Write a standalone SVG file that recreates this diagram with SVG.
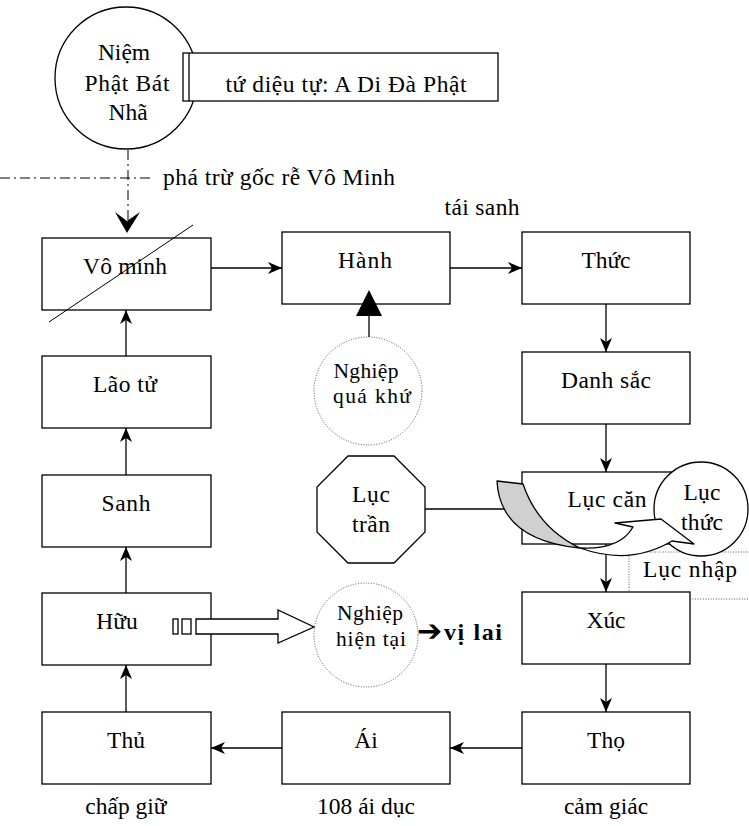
<svg xmlns="http://www.w3.org/2000/svg" width="749" height="826" viewBox="0 0 749 826">
<defs>
<style>
.box{fill:#fff;stroke:#000;stroke-width:1.3}
.t{font-family:"Liberation Serif","Times New Roman",serif;font-size:23.5px;fill:#000;text-anchor:middle}
.s{font-size:21.5px}
.ln{stroke:#000;stroke-width:1.3;fill:none}
.dot{fill:#fff;stroke:#555;stroke-width:1;stroke-dasharray:1 1.6}
.dotl{fill:none;stroke:#555;stroke-width:1;stroke-dasharray:1 1.6}
.dd{stroke:#000;stroke-width:1;fill:none;stroke-dasharray:10 4 2 4}
</style>
<marker id="arr" markerUnits="userSpaceOnUse" markerWidth="16" markerHeight="14" viewBox="0 0 16 14" refX="15" refY="7" orient="auto">
<path d="M1,1 L15,7 L1,13 L5,7 Z" fill="#000"/>
</marker>
</defs>
<rect width="749" height="826" fill="#fff"/>

<g id="luc-nhap">
<rect x="629" y="552" width="140" height="47" class="dotl"/>
<text class="t" x="690" y="577" textLength="94" lengthAdjust="spacing">Lục nhập</text>
</g>

<g id="niem-phat">
<circle cx="126" cy="78" r="71" class="box"/>
<text class="t" x="124" y="60">Niệm</text>
<text class="t" x="127" y="91" textLength="85" lengthAdjust="spacing">Phật Bát</text>
<text class="t" x="128" y="120">Nhã</text>
</g>

<g id="tu-dieu-tu">
<rect x="183" y="53" width="315" height="48" class="box"/>
<line x1="189" y1="53" x2="189" y2="101" class="ln"/>
<text class="t" x="346" y="92" textLength="241" lengthAdjust="spacing">tứ diệu tự: A Di Đà Phật</text>
</g>

<g id="pha-tru">
<line x1="0" y1="178" x2="152" y2="178" class="dd"/>
<line x1="128" y1="150" x2="128" y2="222" class="dd"/>
<path d="M127,233 L115,212 L127,221 L140,212 Z" fill="#000"/>
<text class="t" x="163" y="185" style="text-anchor:start" textLength="232" lengthAdjust="spacing">phá trừ gốc rễ Vô Minh</text>
</g>

<g id="vo-minh">
<rect x="42" y="238" width="169" height="72" class="box"/>
<text class="t" x="125" y="274" textLength="84" lengthAdjust="spacing">Vô minh</text>
</g>

<g id="hanh">
<rect x="282" y="232" width="168" height="72" class="box"/>
<text class="t" x="365" y="268" textLength="54" lengthAdjust="spacing">Hành</text>
</g>

<text class="t" x="482" y="215" textLength="75" lengthAdjust="spacing">tái sanh</text>

<g id="thuc">
<rect x="522" y="232" width="168" height="72" class="box"/>
<text class="t" x="606" y="268" textLength="49" lengthAdjust="spacing">Thức</text>
</g>

<g id="danh-sac">
<rect x="522" y="352" width="168" height="72" class="box"/>
<text class="t" x="606" y="388" textLength="90" lengthAdjust="spacing">Danh sắc</text>
</g>

<g id="lao-tu">
<rect x="42" y="356" width="169" height="72" class="box"/>
<text class="t" x="125" y="392" textLength="64" lengthAdjust="spacing">Lão tử</text>
</g>

<g id="nghiep-qua-khu">
<circle cx="368" cy="391" r="54" class="dot"/>
<text class="t s" x="366" y="378" textLength="65" lengthAdjust="spacing">Nghiệp</text>
<text class="t s" x="372" y="403" textLength="78" lengthAdjust="spacing">quá khứ</text>
</g>

<g id="sanh">
<rect x="42" y="475" width="169" height="72" class="box"/>
<text class="t" x="126" y="511" textLength="49" lengthAdjust="spacing">Sanh</text>
</g>

<g id="luc-tran">
<polygon points="348,456 394,456 425,487 425,532 394,563 348,563 317,532 317,487" class="box"/>
<text class="t" x="371" y="502" textLength="38" lengthAdjust="spacing">Lục</text>
<text class="t" x="371" y="532" textLength="38" lengthAdjust="spacing">trần</text>
</g>

<g id="huu">
<rect x="42" y="593" width="169" height="72" class="box"/>
<text class="t" x="117" y="629">Hữu</text>
</g>

<g id="nghiep-hien-tai">
<circle cx="366" cy="635" r="52" class="dot"/>
<text class="t s" x="370" y="620" textLength="66" lengthAdjust="spacing">Nghiệp</text>
<text class="t s" x="371" y="646" textLength="70" lengthAdjust="spacing">hiện tại</text>
</g>

<g id="vi-lai">
<text x="417" y="641" style="font-family:'DejaVu Sans',sans-serif;font-size:30px;font-weight:bold">➔</text>
<text class="t" x="444" y="640" style="text-anchor:start;font-weight:bold;font-size:24px" textLength="58" lengthAdjust="spacing">vị lai</text>
</g>

<g id="xuc">
<rect x="522" y="592" width="168" height="72" class="box"/>
<text class="t" x="606" y="628" textLength="39" lengthAdjust="spacing">Xúc</text>
</g>

<g id="thu">
<rect x="42" y="712" width="169" height="72" class="box"/>
<text class="t" x="126" y="748">Thủ</text>
</g>

<g id="ai">
<rect x="282" y="712" width="168" height="72" class="box"/>
<text class="t" x="366" y="748">Ái</text>
</g>

<g id="tho">
<rect x="522" y="712" width="168" height="72" class="box"/>
<text class="t" x="606" y="748">Thọ</text>
</g>

<g id="labels">
<text class="t" x="126" y="814">chấp giữ</text>
<text class="t" x="366" y="814">108 ái dục</text>
<text class="t" x="606" y="814">cảm giác</text>
</g>

<g id="luc-can">
<rect x="522" y="472" width="168" height="72" class="box"/>
<text class="t" x="607" y="507" textLength="79" lengthAdjust="spacing">Lục căn</text>
</g>

<g id="connectors">
<line x1="211" y1="268" x2="282" y2="268" class="ln" marker-end="url(#arr)"/>
<line x1="450" y1="268" x2="522" y2="268" class="ln" marker-end="url(#arr)"/>
<line x1="606" y1="304" x2="606" y2="352" class="ln" marker-end="url(#arr)"/>
<line x1="606" y1="424" x2="606" y2="472" class="ln" marker-end="url(#arr)"/>
<line x1="606" y1="544" x2="606" y2="592" class="ln" marker-end="url(#arr)"/>
<line x1="606" y1="664" x2="606" y2="712" class="ln" marker-end="url(#arr)"/>
<line x1="522" y1="748" x2="450" y2="748" class="ln" marker-end="url(#arr)"/>
<line x1="282" y1="748" x2="211" y2="748" class="ln" marker-end="url(#arr)"/>
<line x1="126" y1="712" x2="126" y2="665" class="ln" marker-end="url(#arr)"/>
<line x1="126" y1="593" x2="126" y2="547" class="ln" marker-end="url(#arr)"/>
<line x1="126" y1="475" x2="126" y2="428" class="ln" marker-end="url(#arr)"/>
<line x1="126" y1="356" x2="126" y2="310" class="ln" marker-end="url(#arr)"/>
<line x1="369" y1="337" x2="369" y2="314" class="ln"/>
<path d="M369,290 L382,316 L356,316 Z" fill="#000"/>
<line x1="425" y1="509" x2="506" y2="509" class="ln"/>
<rect x="173" y="619" width="5" height="15" class="box"/>
<rect x="182" y="619" width="9" height="15" class="box"/>
<path d="M196,619 L278,619 L278,610 L314,627 L278,643 L278,634 L196,634 Z" class="box"/>
</g>

<g id="vo-minh-strike">
<line x1="49" y1="322" x2="193" y2="225" stroke="#000" stroke-width="1"/>
</g>

<g id="luc-thuc">
<circle cx="701" cy="509" r="47" class="box"/>
<text class="t" x="702" y="500" textLength="37" lengthAdjust="spacing">Lục</text>
<text class="t" x="702" y="530" textLength="42" lengthAdjust="spacing">thức</text>
</g>

<g id="curved-arrow">
<path d="M580,548 Q630,566 672,541 L694,544 L661,519 L615,523 L633,527 Q620,550 580,548 Z" class="box" stroke-linejoin="round"/>
<path d="M497,481 L523,484 Q538,528 580,548 Q500,540 497,481 Z" fill="#d0d0d0" stroke="#000" stroke-width="1.3" stroke-linejoin="round"/>
</g>
</svg>
